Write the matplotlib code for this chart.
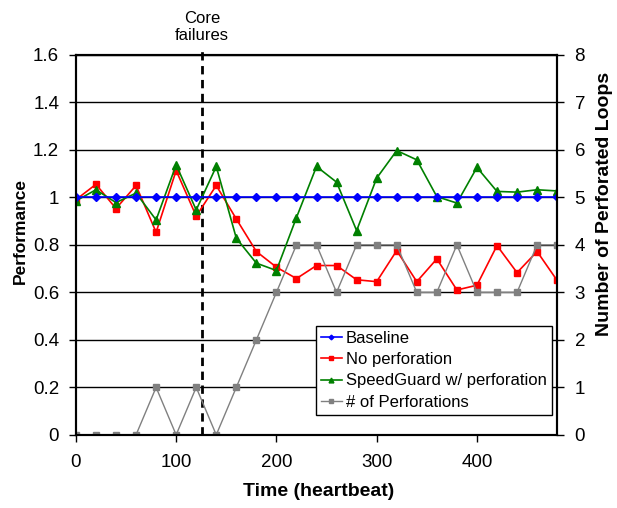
import matplotlib
matplotlib.use("Agg")
import matplotlib.pyplot as plt

plt.rcParams['font.family'] = ['Liberation Sans', 'DejaVu Sans']

time = list(range(0, 481, 20))
baseline = [1.0] * 25
no_perf = [0.99, 1.055, 0.953, 1.05, 0.853, 1.113, 0.921, 1.05, 0.909, 0.772, 0.706,
           0.658, 0.713, 0.713, 0.653, 0.645, 0.776, 0.645, 0.741, 0.61, 0.63,
           0.797, 0.683, 0.772, 0.65]
speedguard = [0.985, 1.032, 0.978, 1.018, 0.905, 1.137, 0.947, 1.13, 0.828, 0.723, 0.692,
              0.915, 1.13, 1.064, 0.86, 1.081, 1.197, 1.158, 1.003, 0.976, 1.126,
              1.025, 1.022, 1.032, 1.027]
perforations = [0, 0, 0, 0, 1, 0, 1, 0, 1, 2, 3, 4, 4, 3, 4, 4, 4, 3, 3, 4, 3, 3, 3, 4, 4]
failure_time = 126
yticks_left = [0, 0.2, 0.4, 0.6, 0.8, 1, 1.2, 1.4, 1.6]
yticklabels_left = ['0', '0.2', '0.4', '0.6', '0.8', '1', '1.2', '1.4', '1.6']
yticks_right = list(range(0, 9))
xticks = [0, 100, 200, 300, 400]

fig = plt.figure(figsize=(6.17, 5.08), dpi=100)
ax = fig.add_axes([0.123, 0.144, 0.780, 0.748])
ax2 = ax.twinx()

for y in yticks_left[1:]:
    ax.axhline(y, color='black', lw=1.0, zorder=1)

ax.plot([failure_time, failure_time], [0, 1.625], color='black', lw=2,
        ls=(0, (3, 2)), zorder=2, clip_on=False)

l1, = ax.plot(time, baseline, color='#0000FF', marker='D', ms=4, lw=1.2, zorder=5,
              label='Baseline')
l2, = ax.plot(time, no_perf, color='#FF0000', marker='s', ms=5, lw=1.2, zorder=4,
              label='No perforation')
l3, = ax.plot(time, speedguard, color='#008000', marker='^', ms=5.8, lw=1.2, zorder=4,
              label='SpeedGuard w/ perforation')
l4, = ax2.plot(time, perforations, color='#808080', marker='s', ms=4.8, lw=1.0,
               label='# of Perforations')

ax.set_xlim(0, 480)
ax.set_ylim(0, 1.6)
ax2.set_ylim(0, 8)
ax.set_xticks(xticks)
ax.set_yticks(yticks_left)
ax.set_yticklabels(yticklabels_left)
ax2.set_yticks(yticks_right)

for a in (ax, ax2):
    for s in a.spines.values():
        s.set_linewidth(1.5)
        s.set_color('black')
ax.tick_params(axis='x', direction='out', length=5, width=1, labelsize=13.5, pad=9)
ax.tick_params(axis='y', direction='out', length=5, width=1, labelsize=13.5, pad=7)
ax2.tick_params(axis='y', direction='out', length=5, width=1, labelsize=13.5, pad=7.5)

ax.set_xlabel('Time (heartbeat)', fontsize=14, fontweight='bold')
ax.xaxis.set_label_coords(0.505, -0.126)
ax.set_ylabel('Performance', fontsize=12.5, fontweight='bold')
ax.yaxis.set_label_coords(-0.10, 0.537)
ax2.set_ylabel('Number of Perforated Loops', fontsize=14, fontweight='bold')
ax2.yaxis.set_label_coords(1.081, 0.608)

ax.text(failure_time, 1.65, 'Core\nfailures', ha='center', va='bottom', fontsize=12,
        linespacing=1.2)

leg = ax2.legend(handles=[l1, l2, l3, l4], loc='upper left',
                 bbox_to_anchor=(0.499, 0.287),
                 fontsize=12, frameon=True, fancybox=False, borderpad=0.3,
                 handlelength=1.25, handletextpad=0.25, labelspacing=0.38,
                 markerscale=0.6, borderaxespad=0)
leg.get_frame().set_edgecolor('black')
leg.get_frame().set_linewidth(1.0)
leg.get_frame().set_alpha(1)

fig.savefig('out.png', dpi=100)
